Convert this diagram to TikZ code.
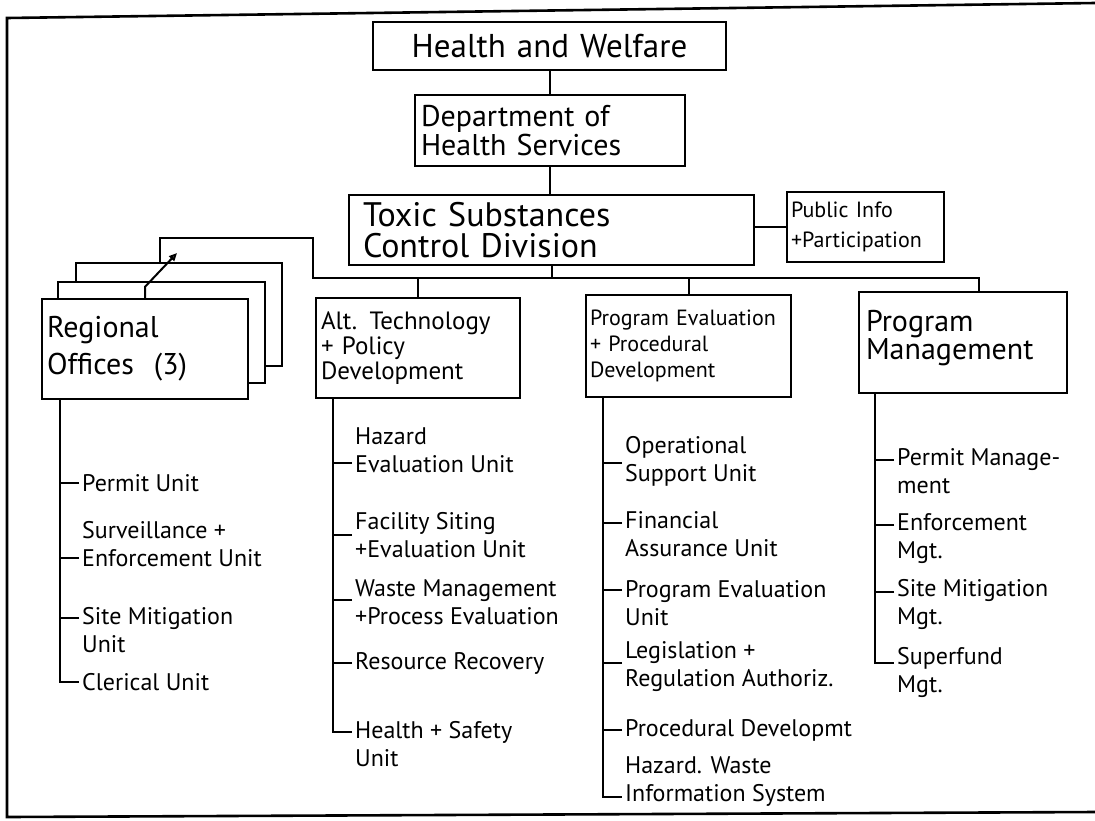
\documentclass[tikz,border=0pt]{standalone}
\usepackage{fontspec}
\setmainfont{PT Sans}
\usetikzlibrary{arrows.meta}

\begin{document}
\begin{tikzpicture}[x=1pt,y=-1pt,
    box/.style={draw,line width=2.4pt,align=left,inner xsep=5pt,inner ysep=0pt},
    unit/.style={anchor=west,align=left,inner xsep=3pt,inner ysep=0pt,font=\fontsize{24}{28}\selectfont},
    link/.style={line width=2pt}]
    %\draw[help lines,step=50] (0,0) grid (1095,820);
    \useasboundingbox (0,0) rectangle (1095,820);
    \draw[line width=2.6pt] (1095,3) -- (7,18) -- (7,817) -- (1095,812);

    % top of the chart
    \node[box,text width=343pt,minimum height=48pt,align=center,font=\fontsize{33}{34}\selectfont] (hw) at (549.5,46) {Health and Welfare};
    \node[box,text width=258pt,minimum height=71pt,inner xsep=6pt,font=\fontsize{30}{27}\selectfont] (dhs) at (550,130.5) {Department of\\Health Services};
    \node[box,text width=377pt,minimum height=70pt,inner xsep=14pt,font=\fontsize{34}{31}\selectfont] (tsc) at (551.5,230) {Toxic Substances\\Control Division};
    \node[box,text width=149pt,minimum height=70pt,inner xsep=4pt,font=\fontsize{22}{30}\selectfont] (pip) at (865.5,227) {Public Info\\+Participation};

    % the four branches
    \draw[line width=2.4pt] (76,282) |- (282,263) |- (265,366);
    \draw[line width=2.4pt] (58,299) |- (265,282) |- (248,383);
    \node[box,fill=white,text width=196pt,minimum height=100pt,font=\fontsize{30}{37}\selectfont] (reg) at (145,349) {Regional\\Offices\ \ (3)};
    \node[box,text width=194pt,minimum height=100pt,font=\fontsize{25}{25}\selectfont] (alt) at (418,348) {Alt. Technology\\+ Policy\\Development};
    \node[box,text width=197pt,minimum height=102pt,inner xsep=4pt,font=\fontsize{22}{26}\selectfont] (pep) at (688.5,346) {Program Evaluation\\+ Procedural\\Development};
    \node[box,text width=194pt,minimum height=101pt,inner xsep=7pt,font=\fontsize{30}{28}\selectfont] (pm) at (963,342.5) {Program\\Management\\[-12pt]\mbox{}};

    \coordinate (regtop) at (160,263);
    \coordinate (busL) at (313,278);
    \coordinate (busR) at (979,278);

    \draw[link] (hw.south) -- (hw.south |- dhs.north);
    \draw[link] (dhs.south) -- (dhs.south |- tsc.north);
    \draw[link] (tsc.east |- pip) -- (pip.west);
    \draw[link] (tsc.south) -- (tsc.south |- busL);
    \draw[link] (regtop) |- (313,238) -- (busL) -- (busR) -- (busR |- pm.north);
    \draw[link] (alt.north) -- (alt.north |- busL);
    \draw[link] (pep.north) -- (pep.north |- busL);
    \draw[link,-{Triangle[open,length=8pt,width=7pt]}] (reg.north) -- ++(0,-11) -- (177,253);

    % units
    \coordinate (rs) at ([xshift=19pt]reg.south west);
    \node[unit] (r1) at (79,483) {Permit Unit};
    \node[unit] (r2) at (79,544) {Surveillance +\\Enforcement Unit};
    \node[unit] (r3) at (79,630) {Site Mitigation\\Unit};
    \node[unit] (r4) at (79,682) {Clerical Unit};
    \draw[link] (rs) |- (r4.west);

    \coordinate (as) at ([xshift=18pt]alt.south west);
    \node[unit] (a1) at (352,450) {Hazard\\Evaluation Unit};
    \node[unit] (a2) at (352,535) {Facility Siting\\+Evaluation Unit};
    \node[unit] (a3) at (352,602) {Waste Management\\+Process Evaluation};
    \node[unit] (a4) at (352,663) {Resource Recovery};
    \node[unit] (a5) at (352,744) {Health + Safety\\Unit};
    \draw[link] (as) |- ([yshift=12pt]a5.west);

    \coordinate (ps) at ([xshift=18pt]pep.south west);
    \node[unit] (p1) at (622,461) {Operational\\Support Unit};
    \node[unit] (p2) at (622,534) {Financial\\Assurance Unit};
    \node[unit] (p3) at (622,603) {Program Evaluation\\Unit};
    \node[unit] (p4) at (622,667) {Legislation +\\Regulation Authoriz.};
    \node[unit] (p5) at (622,730) {Procedural Developmt};
    \node[unit] (p6) at (622,782) {Hazard. Waste\\Information System};
    \draw[link] (ps) |- ([yshift=-15pt]p6.west);

    \coordinate (ms) at ([xshift=17pt]pm.south west);
    \node[unit] (m1) at (894,471) {Permit Manage-\\ment};
    \node[unit] (m2) at (894,539) {Enforcement\\Mgt.};
    \node[unit] (m3) at (894,604) {Site Mitigation\\Mgt.};
    \node[unit] (m4) at (894,672) {Superfund\\Mgt.};
    \draw[link] (ms) |- ([yshift=9pt]m4.west);

    \foreach \n/\s in {r1/0,r2/-14,r3/12,a1/-13,a2/0,a3/2,a4/0,p1/-2,p2/11,p3/13,p4/4,p5/0,m1/11,m2/14,m3/12}
        \draw[link] ([yshift=\s pt]\n.west) -- ++(-18,0);
\end{tikzpicture}
\end{document}
